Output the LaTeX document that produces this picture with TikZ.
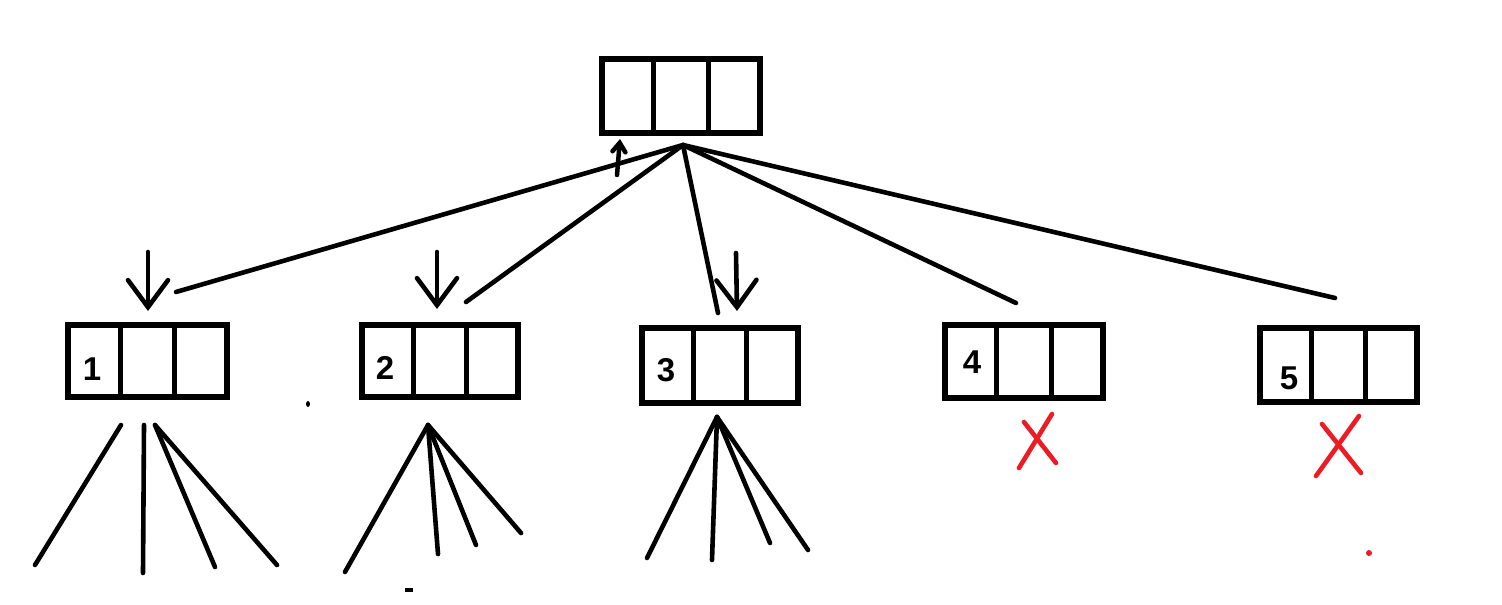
\documentclass[tikz,border=0pt]{standalone}
\usepackage{fontspec}
\setmainfont{Liberation Sans}
\usetikzlibrary{arrows.meta,calc}
\definecolor{xred}{HTML}{ED1C24}
\begin{document}
\begin{tikzpicture}[x=1pt,y=-1pt,
  cellbox/.style={draw,line width=5.5pt,minimum width=157pt,minimum height=73pt,inner sep=0pt},
  divider/.style={line width=5pt},
  stroke/.style={line width=4.6pt,line cap=round},
  downarrow/.style={stroke,-{Straight Barb[length=27pt,width=40pt,line cap=round]}},
  uparrow/.style={line width=4.5pt,line cap=round,-{Straight Barb[length=9pt,width=13pt,line cap=round]}},
  redx/.style={line width=4.6pt,line cap=round,draw=xred},
  lbl/.style={font=\bfseries\fontsize{33}{33}\selectfont,inner sep=0pt}
]
\fill[white] (0,0) rectangle (1502,605);
\useasboundingbox (0,0) rectangle (1502,605);

% boxes
\node[cellbox,minimum width=158pt,minimum height=74pt] (top) at (681,96) {};
\node[cellbox,minimum width=159pt,minimum height=72pt] (b1) at (147.5,361) {};
\node[cellbox,minimum width=156pt,minimum height=72pt] (b2) at (440,361) {};
\node[cellbox,minimum width=156pt,minimum height=75pt] (b3) at (720,365.5) {};
\node[cellbox,minimum width=158pt,minimum height=73pt] (b4) at (1024,361.5) {};
\node[cellbox,minimum width=157pt,minimum height=74pt] (b5) at (1338.5,365) {};
\foreach \b in {top,b1,b2,b3,b4,b5}{
  \draw[divider] ($(\b.north west)!1/3!(\b.north east)$) -- ($(\b.south west)!1/3!(\b.south east)$);
  \draw[divider] ($(\b.north west)!2/3!(\b.north east)$) -- ($(\b.south west)!2/3!(\b.south east)$);
}

% labels
\node[lbl] (l1) at (92,369) {1};
\node[lbl] (l2) at (385,368) {2};
\node[lbl] (l3) at (666,370) {3};
\node[lbl] (l4) at (972,362) {4};
\node[lbl] (l5) at (1289,378) {5};

% hub and links
\coordinate (hub) at (683,145);
\coordinate (e1) at (176,292);
\coordinate (e2) at (466,302);
\coordinate (e3) at (718,313);
\coordinate (e4) at (1016,303);
\coordinate (e5) at (1335,298);
\foreach \e in {e1,e2,e3,e4,e5} \draw[stroke] (hub) -- (\e);

% small up arrow
\coordinate (ua) at (617,175);
\coordinate (ub) at (620,139);
\draw[uparrow] (ua) -- (ub);

% down arrows
\coordinate (d1a) at (148,252); \coordinate (d1b) at (148,311);
\coordinate (d2a) at (437,252); \coordinate (d2b) at (437,309);
\coordinate (d3a) at (736,253); \coordinate (d3b) at (737,311);
\draw[downarrow] (d1a) -- (d1b);
\draw[downarrow] (d2a) -- (d2b);
\draw[downarrow] (d3a) -- (d3b);

% fans under box 1
\coordinate (f1a) at (121,425); \coordinate (f1b) at (144,425); \coordinate (f1c) at (155,425);
\coordinate (f1d) at (35,565); \coordinate (f1e) at (143,573); \coordinate (f1f) at (215,567); \coordinate (f1g) at (277,565);
\draw[stroke] (f1a) -- (f1d);
\draw[stroke] (f1b) -- (f1e);
\draw[stroke] (f1c) -- (f1f);
\draw[stroke] (f1c) -- (f1g);

% fan under box 2
\coordinate (f2) at (428,425);
\coordinate (f2a) at (345,572); \coordinate (f2b) at (438,554); \coordinate (f2c) at (476,545); \coordinate (f2d) at (521,533);
\foreach \t in {f2a,f2b,f2c,f2d} \draw[stroke] (f2) -- (\t);

% fan under box 3
\coordinate (f3) at (717,417);
\coordinate (f3a) at (647,558); \coordinate (f3b) at (712,560); \coordinate (f3c) at (770,543); \coordinate (f3d) at (808,550);
\foreach \t in {f3a,f3b,f3c,f3d} \draw[stroke] (f3) -- (\t);

% red crosses
\coordinate (x4a) at (1019,468); \coordinate (x4b) at (1052,414);
\coordinate (x4c) at (1024,422); \coordinate (x4d) at (1056,463);
\draw[redx] (x4a) -- (x4b);
\draw[redx] (x4c) -- (x4d);
\coordinate (x5a) at (1316,476); \coordinate (x5b) at (1359,416);
\coordinate (x5c) at (1322,424); \coordinate (x5d) at (1361,473);
\draw[redx] (x5a) -- (x5b);
\draw[redx] (x5c) -- (x5d);

% stray marks
\fill[xred] (1369,553) circle (3pt);
\fill[black] (308,404) ellipse (2pt and 3pt);
\fill[black] (405,588) rectangle (413,592);
\end{tikzpicture}
\end{document}
